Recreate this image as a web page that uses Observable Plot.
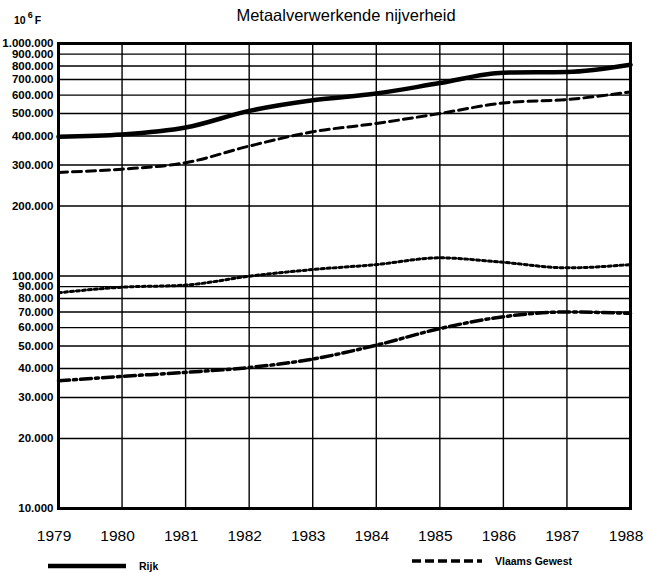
<!DOCTYPE html>
<html>
<head>
<meta charset="utf-8">
<script src="https://cdn.jsdelivr.net/npm/d3@7"></script>
<script src="https://cdn.jsdelivr.net/npm/@observablehq/plot@0.6"></script>
<style>
  html, body { margin: 0; padding: 0; background: #fff; }
  #wrap { position: relative; width: 646px; height: 573px; font-family: "Liberation Sans", Arial, Helvetica, sans-serif; color: #000; }
  #wrap > svg { position: absolute; left: 0; top: 0; }
  .title { position: absolute; left: 0; width: 692px; top: 6px; text-align: center; font-size: 16.5px; }
  .unit { position: absolute; left: 14px; top: 11px; font-size: 10.5px; font-weight: bold; }
  .unit sup { font-size: 9px; position: relative; top: -1px; margin-left: 2px; margin-right: 2px; }
  .leg { position: absolute; font-size: 10.5px; font-weight: bold; display: flex; align-items: center; }
  #wrap .leg svg { position: static; margin-right: 13px; display: block; }
</style>
</head>
<body>
<div id="wrap">
  <div class="title">Metaalverwerkende nijverheid</div>
  <div class="unit">10<sup>6</sup>F</div>
</div>
<script>
const years = [1979, 1980, 1981, 1982, 1983, 1984, 1985, 1986, 1987, 1988];
const rijk = [397000, 406000, 435000, 513000, 570000, 609000, 676000, 749000, 754000, 810000];
const vlaams = [279000, 288000, 307000, 362000, 417000, 453000, 500000, 555000, 574000, 619000];
const dotted = [84700, 89500, 91400, 99800, 106600, 112000, 119700, 114500, 108400, 112000];
const dashdot = [35400, 37000, 38500, 40400, 43900, 50400, 59400, 66800, 70000, 69100];
const yTicks = [10000, 20000, 30000, 40000, 50000, 60000, 70000, 80000, 90000, 100000,
                200000, 300000, 400000, 500000, 600000, 700000, 800000, 900000, 1000000];
const legendNames = ["Rijk", "Vlaams Gewest"];

const nl = d3.formatLocale({decimal: ",", thousands: ".", grouping: [3], currency: ["", ""]});
const fmt = nl.format(",d");

const rows = (vals) => years.map((y, i) => ({year: y, value: vals[i]}));

const chart = Plot.plot({
  width: 646,
  height: 573,
  marginTop: 43,
  marginBottom: 65,
  marginLeft: 58,
  marginRight: 16,
  style: {fontFamily: '"Liberation Sans", Arial, Helvetica, sans-serif', color: "#000", background: "transparent"},
  x: {domain: [1979, 1988]},
  y: {type: "log", domain: [10000, 1000000], axis: null},
  marks: [
    Plot.ruleY(yTicks, {stroke: "#000", strokeWidth: 1.4}),
    Plot.ruleX(years, {stroke: "#000", strokeWidth: 1.4}),
    Plot.frame({stroke: "#000", strokeWidth: 3}),
    Plot.text(yTicks, {y: d => d, text: d => fmt(d), frameAnchor: "left", textAnchor: "end", dx: -5, fontSize: 11.5, fontWeight: "bold", fill: "#000"}),
    Plot.axisX({ticks: years, tickFormat: d => String(d), tickSize: 0, tickPadding: 21, fontSize: 15.5, dx: -4.5, label: null}),
    Plot.line(rows(rijk), {x: "year", y: "value", stroke: "#000", strokeWidth: 4.5, curve: "monotone-x"}),
    Plot.line(rows(vlaams), {x: "year", y: "value", stroke: "#000", strokeWidth: 3, strokeDasharray: "9,5", curve: "monotone-x"}),
    Plot.line(rows(dotted), {x: "year", y: "value", stroke: "#000", strokeWidth: 3, strokeDasharray: "3,3", curve: "monotone-x"}),
    Plot.line(rows(dashdot), {x: "year", y: "value", stroke: "#000", strokeWidth: 3.5, strokeDasharray: "11,4,3,4", curve: "monotone-x"})
  ]
});
const wrap = document.getElementById("wrap");
wrap.insertBefore(chart, wrap.firstChild);

function legendItem(name, left, top, dash, w) {
  const d = document.createElement("div");
  d.className = "leg";
  d.style.left = left + "px";
  d.style.top = top + "px";
  const sw = d3.create("svg").attr("width", w).attr("height", 8);
  sw.append("line").attr("x1", 0).attr("x2", w).attr("y1", 4).attr("y2", 4)
    .attr("stroke", "#000").attr("stroke-width", dash ? 3.5 : 4.5)
    .attr("stroke-dasharray", dash ? "9,4" : null);
  d.appendChild(sw.node());
  const s = document.createElement("span");
  s.textContent = name;
  d.appendChild(s);
  wrap.appendChild(d);
}
legendItem(legendNames[0], 48, 560, false, 78);
legendItem(legendNames[1], 412, 555, true, 70);
</script>
</body>
</html>
